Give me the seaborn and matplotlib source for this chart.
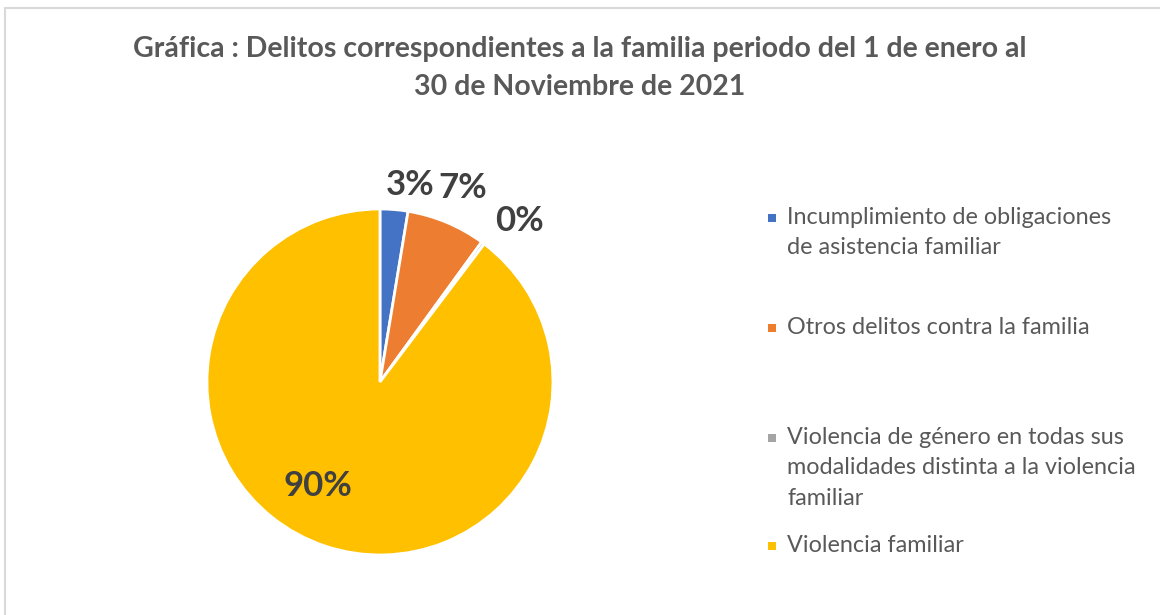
import matplotlib
matplotlib.use("Agg")
import matplotlib.pyplot as plt
from matplotlib.patches import Rectangle
import numpy as np
import seaborn as sns

# datos de la grafica
categorias = [
    "Incumplimiento de obligaciones\nde asistencia familiar",
    "Otros delitos contra la familia",
    "Violencia de género en todas sus\nmodalidades distinta a la violencia\nfamiliar",
    "Violencia familiar",
]
porcentajes = [2.6, 7.4, 0.3, 89.7]
etiquetas = ["3%", "7%", "0%", "90%"]
colores = ["#4472C4", "#ED7D31", "#A5A5A5", "#FFC000"]
titulo = "Gráfica : Delitos correspondientes a la familia periodo del 1 de enero al\n30 de Noviembre de 2021"

sns.set_theme(style="white")
plt.rcParams['font.family'] = ['Lato', 'DejaVu Sans']

fig = plt.figure(figsize=(11.6, 6.15), dpi=100)
fig.patch.set_facecolor("white")

# borde del area del grafico
fig.add_artist(Rectangle((5 / 1160, -0.01), 1.1, 1 - 8 / 615 + 0.01, transform=fig.transFigure,
                         fill=False, edgecolor="#D9D9D9", linewidth=1.5))

ax = fig.add_axes([0.1784, 0.0976, 0.2983, 0.5626])
cuñas, _ = ax.pie(porcentajes, colors=colores, startangle=90, counterclock=False,
                  wedgeprops=dict(edgecolor="white", linewidth=2))
ax.set_aspect("equal")
ax.set_xlim(-1, 1)
ax.set_ylim(-1, 1)

# posicion de etiquetas (distancia radial y ajuste de angulo por porcion)
distancias = [1.15, 1.22, 1.23, 0.70]
ajustes = [-4, -0.5, -4.5, 0]
for w, txt, d, a in zip(cuñas, etiquetas, distancias, ajustes):
    ang = (w.theta1 + w.theta2) / 2 + a
    if txt == "90%":
        ang = 239
    x = d * np.cos(np.deg2rad(ang))
    y = d * np.sin(np.deg2rad(ang))
    ax.text(x, y, txt, ha="center", va="center", fontsize=25, fontweight="bold", color="#404040")

fig.text(0.5, 1 - 68 / 615, titulo, ha="center", va="center", fontsize=20.5, fontweight="bold",
         color="#595959", linespacing=1.55)

# leyenda manual
y_leyenda = [218, 328, 438, 546]
for cat, col, yp in zip(categorias, colores, y_leyenda):
    fig.add_artist(Rectangle((768 / 1160, 1 - (yp + 4) / 615), 8 / 1160, 8 / 615,
                             transform=fig.transFigure, facecolor=col, edgecolor="none"))
    fig.text(787 / 1160, 1 - (yp - 11) / 615, cat, ha="left", va="top", fontsize=16.8,
             color="#595959", linespacing=1.55)

fig.savefig("out.png", dpi=100, facecolor="white")
